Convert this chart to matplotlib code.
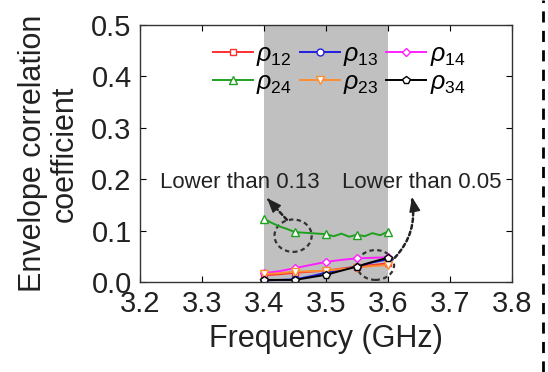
import numpy as np
import matplotlib
matplotlib.use("Agg")
import matplotlib.pyplot as plt
from matplotlib.patches import Ellipse
from matplotlib.lines import Line2D

plt.rcParams["font.family"] = ["Liberation Sans", "DejaVu Sans"]
plt.rcParams["mathtext.fontset"] = "custom"
plt.rcParams["mathtext.it"] = "Liberation Sans:italic"
plt.rcParams["mathtext.rm"] = "Liberation Sans"

# frequency points (GHz)
freq = [3.4, 3.425, 3.45, 3.475, 3.5, 3.525, 3.55, 3.575, 3.6]
freq_fine = [3.4, 3.4125, 3.425, 3.4375, 3.45, 3.4625, 3.475, 3.4875, 3.5,
             3.5125, 3.525, 3.5375, 3.55, 3.5625, 3.575, 3.5875, 3.6]

rho12 = [0.013, 0.015, 0.018, 0.020, 0.022, 0.026, 0.030, 0.033, 0.036]
rho13 = [0.003, 0.004, 0.005, 0.011, 0.018, 0.024, 0.030, 0.038, 0.044]
rho14 = [0.017, 0.021, 0.027, 0.033, 0.039, 0.043, 0.046, 0.047, 0.048]
rho24 = [0.123, 0.115, 0.108, 0.103, 0.097, 0.096, 0.095, 0.094, 0.093,
         0.089, 0.094, 0.088, 0.092, 0.089, 0.095, 0.091, 0.098]
rho23 = [0.015, 0.017, 0.020, 0.021, 0.022, 0.025, 0.028, 0.031, 0.033]
rho34 = [0.004, 0.004, 0.004, 0.009, 0.014, 0.022, 0.030, 0.039, 0.047]

fig = plt.figure(figsize=(5.48, 3.72), dpi=100)
ax = fig.add_axes([0.2555, 0.242, 0.6785, 0.691])

ax.axvspan(3.4, 3.6, color="#c0c0c0", zorder=0, lw=0)

ms = 5
l12, = ax.plot(freq, rho12, color="#ff3030", marker="s", mfc="white", ms=ms, lw=1.4, markevery=2)
l13, = ax.plot(freq, rho13, color="#2020e0", marker="o", mfc="white", ms=ms, lw=1.4, markevery=2)
l14, = ax.plot(freq, rho14, color="#ff20ff", marker="D", mfc="white", ms=ms - 1, lw=1.4, markevery=2)
l24, = ax.plot(freq_fine, rho24, color="#20a020", marker="^", mfc="white", ms=ms + 1, lw=1.4, markevery=4)
l23, = ax.plot(freq, rho23, color="#ff8c30", marker="v", mfc="white", ms=ms + 1, lw=1.4, markevery=2)
l34, = ax.plot(freq, rho34, color="black", marker="p", mfc="white", ms=ms + 1, lw=1.4, markevery=2)

# dashed circles + dotted arrows
ax.add_patch(Ellipse((3.447, 0.09), 0.06, 0.063, fill=False, ls=(0, (2, 1.5)), lw=1.6, color="#333333"))
ax.add_patch(Ellipse((3.58, 0.033), 0.06, 0.058, fill=False, ls=(0, (2, 1.5)), lw=1.6, color="#333333"))
dots = (0, (1.5, 1.2))
head = "-|>,head_length=0.9,head_width=0.35"
ax.annotate("", xy=(3.407, 0.16), xytext=(3.437, 0.121),
            arrowprops=dict(arrowstyle="-", ls=dots, lw=1.8, color="#222222", shrinkA=0, shrinkB=0))
ax.annotate("", xy=(3.405, 0.163), xytext=(6.7, -7.4), textcoords="offset points",
            arrowprops=dict(arrowstyle=head, lw=1, color="#222222", mutation_scale=10, shrinkA=0, shrinkB=0))
ax.annotate("", xy=(3.639, 0.16), xytext=(3.611, 0.047),
            arrowprops=dict(arrowstyle="-", ls=dots, lw=1.8, color="#222222", shrinkA=0, shrinkB=0,
                            connectionstyle="arc3,rad=0.25"))
ax.annotate("", xy=(3.639, 0.165), xytext=(1.9, -9.8), textcoords="offset points",
            arrowprops=dict(arrowstyle=head, lw=1, color="#222222", mutation_scale=10, shrinkA=0, shrinkB=0))
ax.text(3.361, 0.193, "Lower than 0.13", fontsize=16, ha="center", va="center", color="#222222")
ax.text(3.655, 0.193, "Lower than 0.05", fontsize=16, ha="center", va="center", color="#222222")

ax.set_xlim(3.2, 3.8)
ax.set_ylim(0, 0.5)
ax.set_xticks([3.2, 3.3, 3.4, 3.5, 3.6, 3.7, 3.8])
ax.set_yticks([0.0, 0.1, 0.2, 0.3, 0.4, 0.5])
ax.set_yticklabels(["0.0", "0.1", "0.2", "0.3", "0.4", "0.5"])
ax.tick_params(direction="in", top=True, right=True, labelsize=21, length=4, pad=6, labelcolor="#222222")
for s in ax.spines.values():
    s.set_linewidth(1.0)
    s.set_color("#333333")

ax.set_xlabel("Frequency (GHz)", fontsize=22, labelpad=4, color="#222222")
ax.set_ylabel("Envelope correlation\ncoefficient", fontsize=22, labelpad=8, linespacing=1.1, color="#222222")

# column-major order so the rows read 12,13,14 / 24,23,34
ax.legend([l12, l24, l13, l23, l14, l34],
          [r"$\rho_{12}$", r"$\rho_{24}$", r"$\rho_{13}$", r"$\rho_{23}$", r"$\rho_{14}$", r"$\rho_{34}$"],
          ncol=3, loc="upper left", bbox_to_anchor=(0.195, 0.935), frameon=False, fontsize=18,
          handlelength=1.6, handletextpad=0.15, columnspacing=0.3, labelspacing=0.1,
          borderpad=0, borderaxespad=0)

# dashed panel border on the right
fig.add_artist(Line2D([543 / 548, 543 / 548], [0, 1], transform=fig.transFigure,
                      color="black", ls=(0, (4, 3)), lw=2))

fig.savefig("out.png", dpi=100)
